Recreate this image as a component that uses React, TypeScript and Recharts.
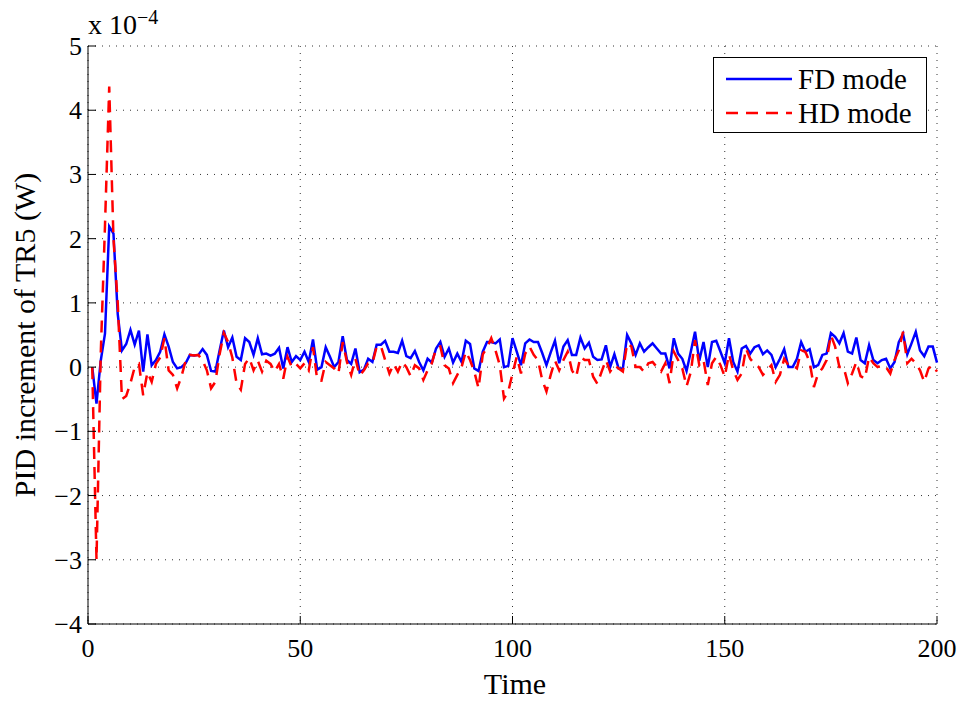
import { LineChart, Line, XAxis, YAxis, CartesianGrid } from 'recharts'

// time steps 1..200, values in units of 1e-4 W
const fdMode = [
  0, -0.57, 0.1, 0.52, 2.19, 2.08, 0.83, 0.26, 0.36, 0.58,
  0.35, 0.57, -0.07, 0.51, 0.03, 0.11, 0.24, 0.51, 0.32, 0.08,
  -0.02, 0, 0.06, 0.19, 0.18, 0.19, 0.28, 0.19, -0.06, -0.07,
  0.26, 0.57, 0.31, 0.46, 0.16, 0.11, 0.45, 0.39, 0.19, 0.45,
  0.2, 0.21, 0.18, 0.21, 0.3, -0.02, 0.31, 0.08, 0.17, 0.11,
  0.24, 0.08, 0.43, -0.04, 0, 0.31, 0.16, 0, 0.08, 0.48,
  0.11, 0.05, 0.29, -0.08, -0.04, 0.13, 0.08, 0.35, 0.35, 0.41,
  0.24, 0.24, 0.22, 0.41, 0.17, 0.14, 0.25, 0.08, -0.05, 0.13,
  0.07, 0.29, 0.39, 0.16, 0.29, 0.07, 0.21, 0.08, 0.41, 0.36,
  -0.02, -0.06, 0.24, 0.39, 0.39, 0.37, 0.43, 0, 0.02, 0.45,
  0.24, 0.03, 0.37, 0.43, 0.39, 0.39, 0.22, 0.03, 0.23, 0.41,
  0.06, 0.32, 0.42, 0.19, 0.19, 0.46, 0.29, 0.38, 0.16, 0.11,
  0.12, 0.34, 0, 0.2, -0.02, -0.02, 0.5, 0.37, 0.19, 0.37,
  0.24, 0.31, 0.37, 0.29, 0.21, 0.21, -0.02, 0.45, 0.21, 0.13,
  -0.06, 0.24, 0.55, 0.1, 0.39, 0, 0.39, 0.41, 0.24, 0.06,
  0.45, 0.08, -0.07, 0.29, 0.33, 0.21, 0.31, 0.34, 0.2, 0.26,
  0.19, 0, 0.13, 0.28, 0, 0, 0.13, 0.39, 0.24, 0.28,
  0, 0.03, 0.19, 0.21, 0.53, 0.47, 0.37, 0.53, 0.24, 0.21,
  0.46, 0.11, 0.06, 0.34, 0.11, 0.06, 0.11, 0.13, -0.02, 0.08,
  0.39, 0.52, 0.2, 0.37, 0.55, 0.26, 0.17, 0.32, 0.32, 0.07,
]

const hdMode = [
  0, -3.0, 0.2, 2.2, 4.37, 2.0, 1.0, -0.5, -0.45, -0.25,
  0, 0.05, -0.44, -0.08, -0.23, 0.05, 0.15, 0.45, -0.05, -0.12,
  -0.33, -0.15, 0.1, 0.19, 0.18, 0.19, 0.1, -0.05, -0.33, -0.23,
  0.2, 0.53, 0.39, 0.15, -0.25, -0.35, 0.05, 0.14, -0.05, 0.1,
  -0.07, 0.1, 0.05, -0.07, 0.05, -0.18, 0.16, 0, 0.05, -0.02,
  0.06, -0.05, 0.31, -0.2, -0.21, 0.08, 0.03, -0.02, -0.1, 0.39,
  0.08, -0.12, 0.13, -0.13, -0.05, 0.06, 0.06, 0.32, 0.33, 0.11,
  -0.1, 0.05, -0.07, 0.08, 0, -0.14, 0.03, -0.02, -0.2, -0.05,
  0.06, 0.29, 0.32, 0.03, -0.02, -0.25, -0.12, 0, 0.24, 0.11,
  -0.07, -0.33, 0.2, 0.3, 0.45, 0.26, 0.03, -0.49, -0.38, -0.1,
  0.16, -0.1, 0.21, 0.32, 0.19, 0.11, -0.2, -0.38, -0.12, 0.1,
  -0.05, 0.11, 0.24, -0.05, -0.15, 0.16, 0.11, 0.11, -0.15, -0.26,
  -0.07, 0.11, -0.07, 0.03, -0.02, -0.07, 0.37, 0.32, 0, 0,
  -0.07, 0.06, 0.08, 0, -0.07, 0.06, -0.25, 0.24, 0.11, -0.02,
  -0.3, -0.08, 0.42, 0.03, 0.11, -0.28, 0.06, 0.16, 0.03, -0.15,
  0.2, -0.05, -0.2, -0.1, 0.29, 0.13, 0.05, 0, -0.12, -0.05,
  0.03, -0.23, -0.12, 0.13, 0.03, 0.03, -0.02, 0.26, 0.24, 0.08,
  -0.31, -0.1, -0.02, 0.11, 0.5, 0.32, 0, 0, -0.25, -0.1,
  0.08, -0.14, -0.18, 0.16, 0.06, 0, 0.03, 0, -0.1, 0.11,
  0.26, 0.55, 0.06, 0.13, 0.06, -0.05, -0.23, -0.02, 0.03, -0.07,
]

const xTicks = [0, 50, 100, 150, 200]
const yTicks = [-4, -3, -2, -1, 0, 1, 2, 3, 4, 5]

const data = fdMode.map((v, i) => ({ t: i + 1, fd: v, hd: hdMode[i] }))

const FONT = '"Liberation Serif", "DejaVu Serif", serif'
const fmt = (v: number) => (v < 0 ? '\u2212' + Math.abs(v) : String(v))

const BottomTick = ({ x, y, payload }: any) => (
  <g>
    <line x1={x} x2={x} y1={y} y2={y - 8} stroke="#000" />
    <text x={x} y={y + 33} textAnchor="middle" fontSize={26} fontFamily={FONT} fill="#000">{fmt(payload.value)}</text>
  </g>
)
const TopTick = ({ x, y }: any) => <line x1={x} x2={x} y1={y} y2={y + 8} stroke="#000" />
const LeftTick = ({ x, y, payload }: any) => (
  <g>
    <line x1={x} x2={x + 8} y1={y} y2={y} stroke="#000" />
    <text x={x - 6} y={y + 9} textAnchor="end" fontSize={26} fontFamily={FONT} fill="#000">{fmt(payload.value)}</text>
  </g>
)
const RightTick = ({ x, y }: any) => <line x1={x} x2={x - 8} y1={y} y2={y} stroke="#000" />

const legendItems = [
  { name: 'FD mode', color: '#0000ff', dash: undefined as string | undefined },
  { name: 'HD mode', color: '#ff0000', dash: '12 8' },
]

const LegendBox = () => (
  <div style={{ position: 'absolute', left: 713, top: 57, border: '1.5px solid #000', background: '#fff', width: 214, height: 76, boxSizing: 'border-box', fontFamily: FONT, fontSize: 29, color: '#000' }}>
    {legendItems.map((e, i) => (
      <div key={e.name} style={{ display: 'flex', alignItems: 'center', height: 34, marginTop: i === 0 ? 4 : 0, lineHeight: '34px' }}>
        <svg width={66} height={10} style={{ marginLeft: 12, flex: 'none' }}>
          <line x1={0} x2={66} y1={5} y2={5} stroke={e.color} strokeWidth={2.5} strokeDasharray={e.dash} />
        </svg>
        <span style={{ marginLeft: 6 }}>{e.name}</span>
      </div>
    ))}
  </div>
)

export default function App() {
  return (
    <div style={{ position: 'absolute', left: 0, top: 0, width: 964, height: 702, background: '#fff' }}>
      <LineChart width={964} height={702} data={data} margin={{ top: 46, right: 27, left: 28, bottom: 38 }}>
        <CartesianGrid stroke="#333" strokeDasharray="1 6" />
        <XAxis dataKey="t" type="number" domain={[0, 200]} ticks={xTicks} height={40} tickSize={0} tickMargin={0}
          tickLine={false} axisLine={{ stroke: '#000' }} tick={<BottomTick />} interval={0} />
        <XAxis xAxisId="top" orientation="top" type="number" domain={[0, 200]} ticks={xTicks} height={0} tickSize={0}
          tickMargin={0} tickLine={false} axisLine={{ stroke: '#000' }} tick={<TopTick />} interval={0} />
        <YAxis type="number" domain={[-4, 5]} ticks={yTicks} width={60} tickSize={0} tickMargin={0}
          tickLine={false} axisLine={{ stroke: '#000' }} tick={<LeftTick />} interval={0} allowDataOverflow />
        <YAxis yAxisId="right" orientation="right" type="number" domain={[-4, 5]} ticks={yTicks} width={0} tickSize={0}
          tickMargin={0} tickLine={false} axisLine={{ stroke: '#000' }} tick={<RightTick />} interval={0} />
        <Line type="linear" dataKey="fd" name="FD mode" stroke="#0000ff" strokeWidth={2.5} dot={false} isAnimationActive={false} />
        <Line type="linear" dataKey="hd" name="HD mode" stroke="#ff0000" strokeWidth={2.5} strokeDasharray="12 8" dot={false} isAnimationActive={false} />
      </LineChart>
      <LegendBox />
      <div style={{ position: 'absolute', left: 88, top: 9, fontFamily: FONT, fontSize: 28, color: '#000', whiteSpace: 'nowrap', lineHeight: '32px' }}>
        x 10<span style={{ fontSize: 20, position: 'relative', top: -10 }}>{'\u2212'}4</span>
      </div>
      <div style={{ position: 'absolute', left: 515, top: 684, transform: 'translate(-50%, -50%)', fontFamily: FONT, fontSize: 30, color: '#000', whiteSpace: 'nowrap' }}>
        Time
      </div>
      <div style={{ position: 'absolute', left: 25, top: 335, transform: 'translate(-50%, -50%) rotate(-90deg)', fontFamily: FONT, fontSize: 30, color: '#000', whiteSpace: 'nowrap' }}>
        PID increment of TR5 (W)
      </div>
    </div>
  )
}
